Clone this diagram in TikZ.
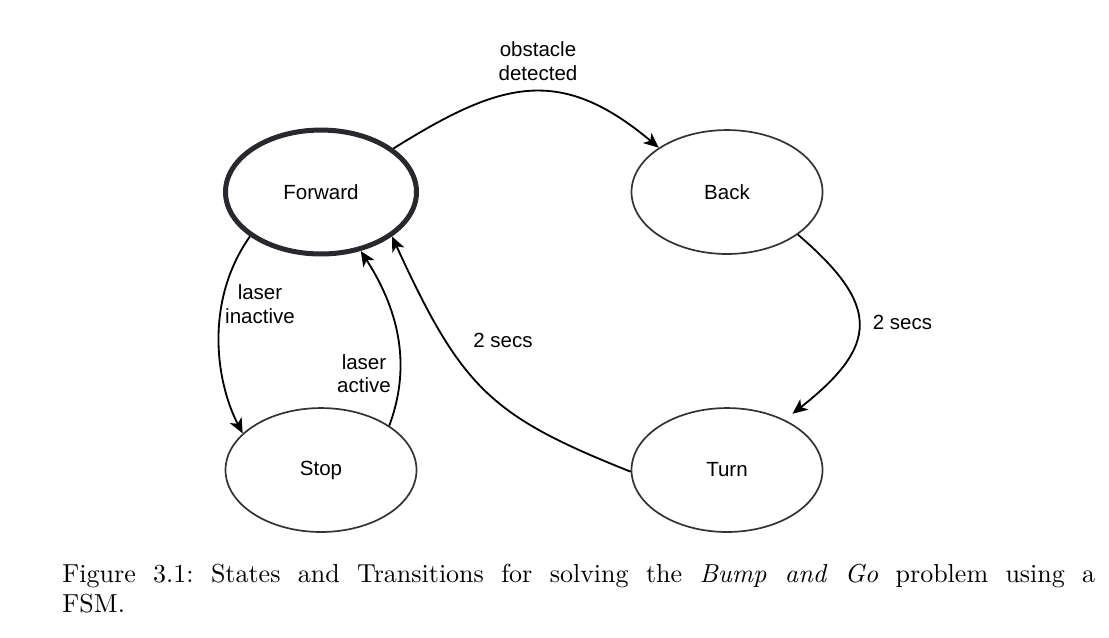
\documentclass[tikz,border=0pt]{standalone}
\usepackage{fontspec}
\newfontfamily\diafont{Liberation Sans}
\usetikzlibrary{shapes.geometric,arrows.meta}
\definecolor{strokegray}{RGB}{51,51,51}
\definecolor{thickgray}{RGB}{40,40,45}
\begin{document}
\begin{tikzpicture}[x=0.41152pt,y=-0.41152pt,
  state/.style={ellipse, draw=strokegray, line width=0.7pt, minimum width=78.6pt, minimum height=51pt, inner sep=0pt, font=\diafont\fontsize{8.44}{9.75}\selectfont},
  initstate/.style={state, draw=thickgray, line width=2.06pt},
  trans/.style={-{Stealth[length=6.2pt,width=5.4pt,inset=1.7pt]}, line width=0.75pt, black},
  lbl/.style={font=\diafont\fontsize{8.44}{9.75}\selectfont, align=center, inner sep=0pt}]
\useasboundingbox (0,0) rectangle (1109,637);
\node[initstate] (F) at (321,192) {Forward};
\node[state] (B) at (727,192) {Back};
\node[state] (S) at (321,470) {Stop};
\node[state] (T) at (727,470) {Turn};
\draw[trans] (F.31) .. controls (500,82) and (559,64) .. (B.147);
\draw[trans, shorten >=4pt] (B.-31) .. controls (880,305) and (880,345) .. (T.41);
\draw[trans] (T.181) .. controls (491,416) and (462,389) .. (F.-32);
\draw[trans] (F.212) .. controls (205,300) and (215,380) .. (S.155);
\draw[trans] (S.33) .. controls (410,370) and (402,315) .. (F.-56);
\node[lbl] (l1) at (538,61) {obstacle\\detected};
\node[lbl] (l2) at (260,304) {laser\\inactive};
\node[lbl] (l3) at (364,373.5) {laser\\active};
\node[lbl, anchor=base] (l4) at (503,347) {2 secs};
\node[lbl, anchor=base] (l5) at (902.5,329) {2 secs};
\node[anchor=north west, text width=425pt, align=justify, inner sep=0pt, font=\rmfamily\fontsize{10.7}{12.35}\selectfont] (cap) at (62,563.4) {\noindent\frenchspacing Figure 3.1: States and Transitions for solving the \emph{Bump and Go} problem using a\linebreak FSM.};
\end{tikzpicture}
\end{document}
